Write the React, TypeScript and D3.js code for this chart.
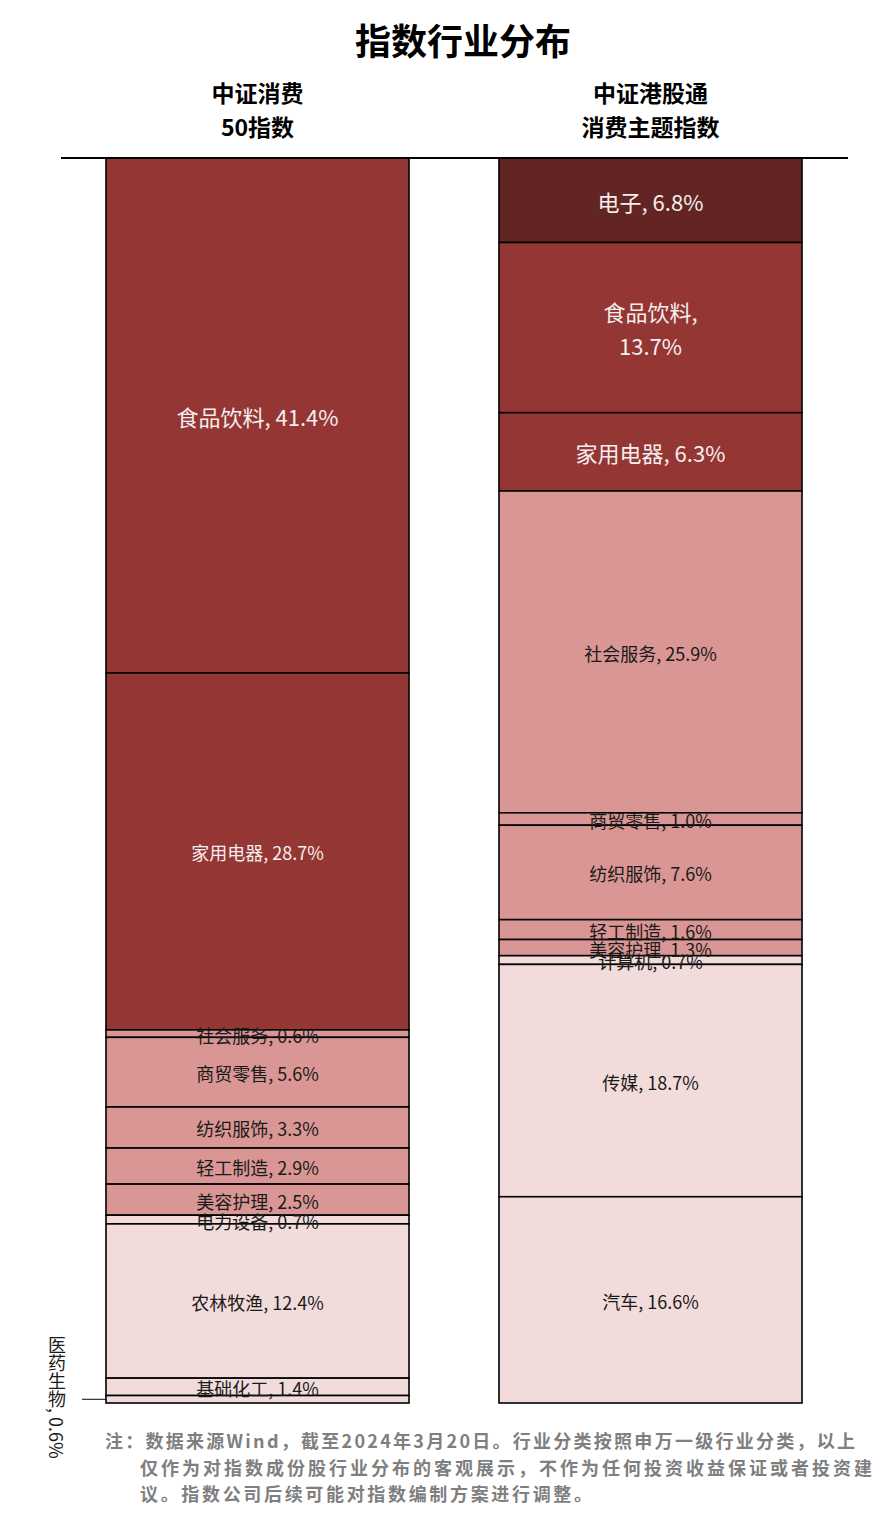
import React from "react";
import * as d3 from "d3";

const columns = ["中证消费50指数", "中证港股通消费主题指数"];
const columnTitles = [["中证消费", "50指数"], ["中证港股通", "消费主题指数"]];

const leftIndustries = ["食品饮料", "家用电器", "社会服务", "商贸零售", "纺织服饰", "轻工制造", "美容护理", "电力设备", "农林牧渔", "基础化工", "医药生物"];
const leftValues = [41.4, 28.7, 0.6, 5.6, 3.3, 2.9, 2.5, 0.7, 12.4, 1.4, 0.6];

const rightIndustries = ["电子", "食品饮料", "家用电器", "社会服务", "商贸零售", "纺织服饰", "轻工制造", "美容护理", "计算机", "传媒", "汽车"];
const rightValues = [6.8, 13.7, 6.3, 25.9, 1.0, 7.6, 1.6, 1.3, 0.7, 18.7, 16.6];

const colorIndustries = ["电子", "食品饮料", "家用电器", "社会服务", "商贸零售", "纺织服饰", "轻工制造", "美容护理", "电力设备", "农林牧渔", "基础化工", "医药生物", "计算机", "传媒", "汽车"];
const colorValues = ["#632523", "#943634", "#943634", "#D99694", "#D99694", "#D99694", "#D99694", "#D99694", "#F2DCDB", "#F2DCDB", "#F2DCDB", "#F2DCDB", "#F2DCDB", "#F2DCDB", "#F2DCDB"];

const footnoteLines = [
  "注：数据来源Wind，截至2024年3月20日。行业分类按照申万一级行业分类，以上",
  "仅作为对指数成份股行业分布的客观展示，不作为任何投资收益保证或者投资建",
  "议。指数公司后续可能对指数编制方案进行调整。",
];

const W = 892;
const H = 1519;
const TOP = 158;
const BOTTOM = 1403;
const LABEL_FONT = "'Liberation Sans Narrow', 'Noto Sans CJK SC', sans-serif";
const BIG = new Set(["0-食品饮料", "1-电子", "1-食品饮料", "1-家用电器"]);
const WRAP = new Set(["1-食品饮料"]);
const OUTSIDE = new Set(["0-医药生物"]);

export default function App() {
  const x = d3.scaleBand<string>().domain(columns).range([61, 847]).paddingInner(0.229).paddingOuter(0.1145);
  const color = d3.scaleOrdinal<string, string>().domain(colorIndustries).range(colorValues);
  const data = [
    { names: leftIndustries, values: leftValues },
    { names: rightIndustries, values: rightValues },
  ];

  return (
    <svg width={W} height={H} style={{ position: "absolute", left: 0, top: 0, background: "#fff" }}>
      <text x={463} y={55} textAnchor="middle" fontSize={36} fontWeight="bold" fontFamily="'Noto Sans CJK SC', sans-serif" fill="#000">
        指数行业分布
      </text>
      {columns.map((c, ci) => (
        <g key={c}>
          {columnTitles[ci].map((t, ti) => (
            <text key={t} x={(x(c) as number) + x.bandwidth() / 2} y={102 + ti * 34} textAnchor="middle" fontSize={23} fontWeight="bold" fontFamily="'Noto Sans CJK SC', sans-serif" fill="#000">
              {t}
            </text>
          ))}
        </g>
      ))}
      {data.map((col, ci) => {
        const total = d3.sum(col.values);
        const y = d3.scaleLinear().domain([0, total]).range([TOP, BOTTOM]);
        const cum = d3.cumsum(col.values);
        const x0 = x(columns[ci]) as number;
        const bw = x.bandwidth();
        const cx = x0 + bw / 2;
        return (
          <g key={ci}>
            {col.names.map((n, i) => {
              const start = i === 0 ? 0 : cum[i - 1];
              const y0 = y(start);
              const y1 = y(cum[i]);
              return (
                <rect key={n} x={x0} y={y0} width={bw} height={y1 - y0} fill={color(n)} stroke="#000" strokeWidth={1.6} />
              );
            })}
            {col.names.map((n, i) => {
              const start = i === 0 ? 0 : cum[i - 1];
              const y0 = y(start);
              const y1 = y(cum[i]);
              const cy = (y0 + y1) / 2;
              const key = `${ci}-${n}`;
              const fill = color(n);
              const dark = fill === "#943634" || fill === "#632523";
              const tc = dark ? "#f4eeee" : "#1a1a1a";
              const fs = BIG.has(key) ? 22 : 18;
              const label = `${n}, ${col.values[i].toFixed(1)}%`;
              if (OUTSIDE.has(key)) {
                return (
                  <g key={key}>
                    <line x1={82} x2={x0} y1={cy} y2={cy} stroke="#000" strokeWidth={1} />
                    <text x={57} y={1336} fontSize={18} fontFamily={LABEL_FONT} fill="#1a1a1a" style={{ writingMode: "vertical-rl" as any }}>
                      {label}
                    </text>
                  </g>
                );
              }
              if (WRAP.has(key)) {
                return (
                  <text key={key} x={cx} y={cy} textAnchor="middle" fontSize={fs} fontFamily={LABEL_FONT} fill={tc}>
                    <tspan x={cx} dy={-14 + fs * 0.35}>{`${n},`}</tspan>
                    <tspan x={cx} dy={34}>{`${col.values[i].toFixed(1)}%`}</tspan>
                  </text>
                );
              }
              return (
                <text key={key} x={cx} y={cy + fs * 0.36 + 2.5} textAnchor="middle" fontSize={fs} fontFamily={LABEL_FONT} fill={tc}>
                  {label}
                </text>
              );
            })}
          </g>
        );
      })}
      <line x1={61} x2={848} y1={TOP} y2={TOP} stroke="#000" strokeWidth={2} />
      {footnoteLines.map((t, i) => {
        const xs = i === 0 ? 105 : 140;
        const lens = [750, 732, 452];
        return (
          <text key={i} x={xs} y={1448 + i * 26.5} fontSize={18} fontWeight="bold" fontFamily="'Noto Sans CJK SC', sans-serif" fill="#7f7f7f" textLength={lens[i]} lengthAdjust="spacing">
            {t}
          </text>
        );
      })}
    </svg>
  );
}
